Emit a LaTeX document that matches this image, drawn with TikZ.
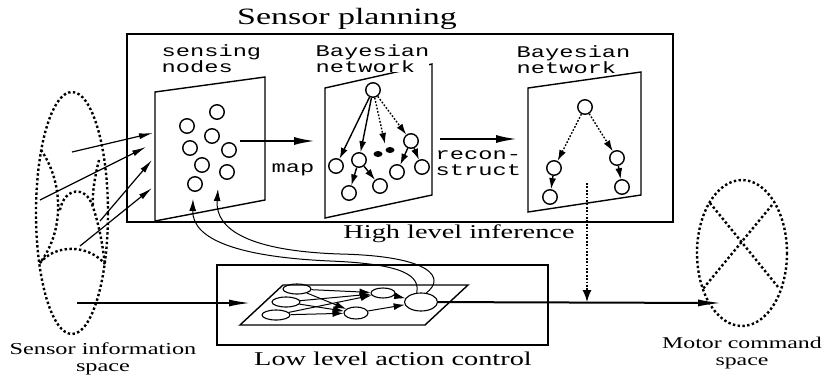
\documentclass[tikz,border=0pt]{standalone}
\usepackage{fontspec}
\setmainfont{Liberation Serif}
\newfontfamily\widerm[FakeStretch=1.45]{Liberation Serif}
\newfontfamily\widett[FakeStretch=1.45]{Liberation Mono}
\usetikzlibrary{arrows.meta,shapes.geometric}

\begin{document}
\begin{tikzpicture}[x=1bp, y=-1bp, line width=1.4bp,
    >={Latex[length=14bp,width=6bp]},
    snode/.style={circle, draw, line width=1.4bp, minimum size=14.5bp, inner sep=0pt},
    lnode/.style={ellipse, draw, line width=1.1bp, minimum width=#1, minimum height=10bp, inner sep=0pt},
    blob/.style={ellipse, fill, minimum width=9bp, minimum height=6bp, inner sep=0pt},
    dotspace/.style={line width=2.4bp, dash pattern=on 2.4bp off 2.4bp},
    arr/.style={-{Latex[length=11bp,width=7bp]}},
    dotarr/.style={-{Latex[length=11bp,width=7bp]}, line width=1.4bp, dash pattern=on 1.7bp off 1.7bp},
    bigarr/.style={-{Latex[length=22bp,width=8bp]}, line width=2.5bp},
    tlabel/.style={font=\widett\fontsize{16.4}{15.5}\selectfont, align=left, inner sep=0pt, fill=white, anchor=base west},
    caption/.style={font=\widerm\fontsize{#1}{#1}\selectfont, align=center, inner sep=0pt, anchor=base}]

  \useasboundingbox (0,0) rectangle (828,383);

  % frames
  \draw[line width=1.7bp] (127,34) rectangle (673,222);
  \draw[line width=1.7bp] (217,265) rectangle (548,345);
  \node[caption=23.5] (plan) at (347,24) {Sensor planning};
  \node[caption=19.6] (high) at (459,238) {High level inference};
  \node[caption=19.6] (low) at (393,365) {Low level action control};
  \node[caption=16.8] (sis) at (103,371) {Sensor information\\space};
  \node[caption=16.5] (mcs) at (742,365) {Motor command\\space};

  % panels
  \draw (155,92) -- (265,77) -- (265,200) -- (155,221) -- cycle;
  \draw (325,88) -- (432,64) -- (432,195) -- (325,218) -- cycle;
  \draw (528,88) -- (641,72) -- (641,195) -- (528,212) -- cycle;
  \node[tlabel] (lsens) at (161,72) {sensing\\nodes};
  \node[tlabel] (lbn1) at (315,72) {Bayesian\\network};
  \node[tlabel] (lbn2) at (516,73) {Bayesian\\network};
  \node[tlabel] (lmap) at (271,172) {map};
  \node[tlabel] (lrec) at (435,175) {recon-\\struct};

  % sensing nodes
  \foreach \n/\p in {1/{217,112}, 2/{187,126}, 3/{212,136}, 4/{190,148},
                     5/{229,150}, 6/{202,165}, 7/{227,172}, 8/{195,184}}
    \node[snode] (s\n) at (\p) {};

  % first network
  \node[snode] (b0) at (373,90) {};
  \node[snode] (b1) at (336,166) {};
  \node[snode] (b2) at (359,160) {};
  \node[snode] (b3) at (411,141) {};
  \node[snode] (b4) at (397,172) {};
  \node[snode] (b5) at (422,167) {};
  \node[snode] (b6) at (349,193) {};
  \node[snode] (b7) at (380,186) {};
  \node[blob] (e1) at (378,154) {};
  \node[blob] (e2) at (390,150) {};
  \coordinate (bd) at (385,144);
  \draw[arr] (b0) -- (b1);
  \draw[arr] (b0) -- (b2);
  \draw[dotarr] (b0) -- (bd);
  \draw[dotarr] (b0) -- (b3);
  \draw[arr] (b2) -- (b6);
  \draw[arr] (b2) -- (b7);
  \draw[arr] (b3) -- (b4);
  \draw[arr] (b3) -- (b5);

  % second network
  \node[snode] (r0) at (585,107) {};
  \node[snode] (r1) at (554,168) {};
  \node[snode] (r2) at (617,158) {};
  \node[snode] (r3) at (550,197) {};
  \node[snode] (r4) at (622,187) {};
  \draw[dotarr] (r0) -- (r1);
  \draw[dotarr] (r0) -- (r2);
  \draw[arr] (r1) -- (r3);
  \draw[arr] (r2) -- (r4);

  \coordinate (m0) at (240,141);
  \coordinate (m1) at (316,141);
  \draw[bigarr] (m0) -- (m1);
  \coordinate (k0) at (440,139);
  \coordinate (k1) at (518,139);
  \draw[bigarr] (k0) -- (k1);

  % sensor information space
  \draw[dotspace] (72,213) ellipse [x radius=36, y radius=121];
  \draw[dotspace] (41,150) .. controls (62,180) and (66,228) .. (40,263);
  \draw[dotspace] (60,210) .. controls (64,188) and (86,184) .. (93,207)
                  .. controls (100,228) and (103,248) .. (105,265);
  \draw[dotspace] (99,160) .. controls (94,180) and (92,196) .. (93,207);
  \draw[dotspace] (40,263) .. controls (55,244) and (88,244) .. (105,264);
  \foreach \i/\a/\b in {1/{72,152}/{153,133}, 2/{40,200}/{146,147},
                        3/{100,221}/{152,160}, 4/{80,246}/{152,188}} {
    \coordinate (src\i) at (\a);
    \coordinate (snk\i) at (\b);
    \draw[->, line width=1.2bp] (src\i) -- (snk\i);
  }

  % low level network
  \draw (283,285) -- (468,285) -- (425,325) -- (240,325) -- cycle;
  \node[lnode=28bp] (a1) at (297,289) {};
  \node[lnode=28bp] (a2) at (286,302) {};
  \node[lnode=28bp] (a3) at (276,315) {};
  \node[lnode=24bp] (c1) at (383,293) {};
  \node[lnode=24bp, minimum height=12bp] (c2) at (356,313) {};
  \node[lnode=33bp, minimum height=18bp] (act) at (421,302) {};
  \foreach \s in {a1,a2,a3}
    \foreach \t in {c1,c2}
      \draw[arr, line width=1bp] (\s) -- (\t);
  \draw[arr, line width=1bp] (c1) -- (act);
  \draw[arr, line width=1bp] (c2) -- (act);

  \coordinate (fb1) at (193,199);
  \coordinate (fb2) at (218,189);
  \draw[-{Latex[length=12bp,width=7bp]}, line width=1bp] (act.115)
    .. controls (420,276) and (405,264) .. (330,261)
    .. controls (240,257) and (192,240) .. (fb1);
  \draw[-{Latex[length=12bp,width=7bp]}, line width=1bp] (act.60)
    .. controls (446,278) and (432,256) .. (340,254)
    .. controls (250,251) and (215,230) .. (fb2);

  % main flow
  \coordinate (sin) at (77,303);
  \coordinate (lin) at (251,303);
  \draw[-{Latex[length=22bp,width=7bp]}, line width=2bp] (sin) -- (lin);
  \coordinate (mot) at (722,303);
  \draw[-{Latex[length=24bp,width=7bp]}, line width=2bp] (act) -- (mot);
  \coordinate (inf) at (587,183);
  \coordinate (jn) at (587,302);
  \draw[-{Latex[length=12bp,width=9bp]}, line width=1.4bp, dash pattern=on 1.7bp off 1.7bp] (inf) -- (jn);

  % motor command space
  \draw[dotspace] (742,253) ellipse [x radius=45, y radius=73];
  \draw[dotspace] (710,203) -- (778,287);
  \draw[dotspace] (772,205) -- (702,290);
\end{tikzpicture}
\end{document}
